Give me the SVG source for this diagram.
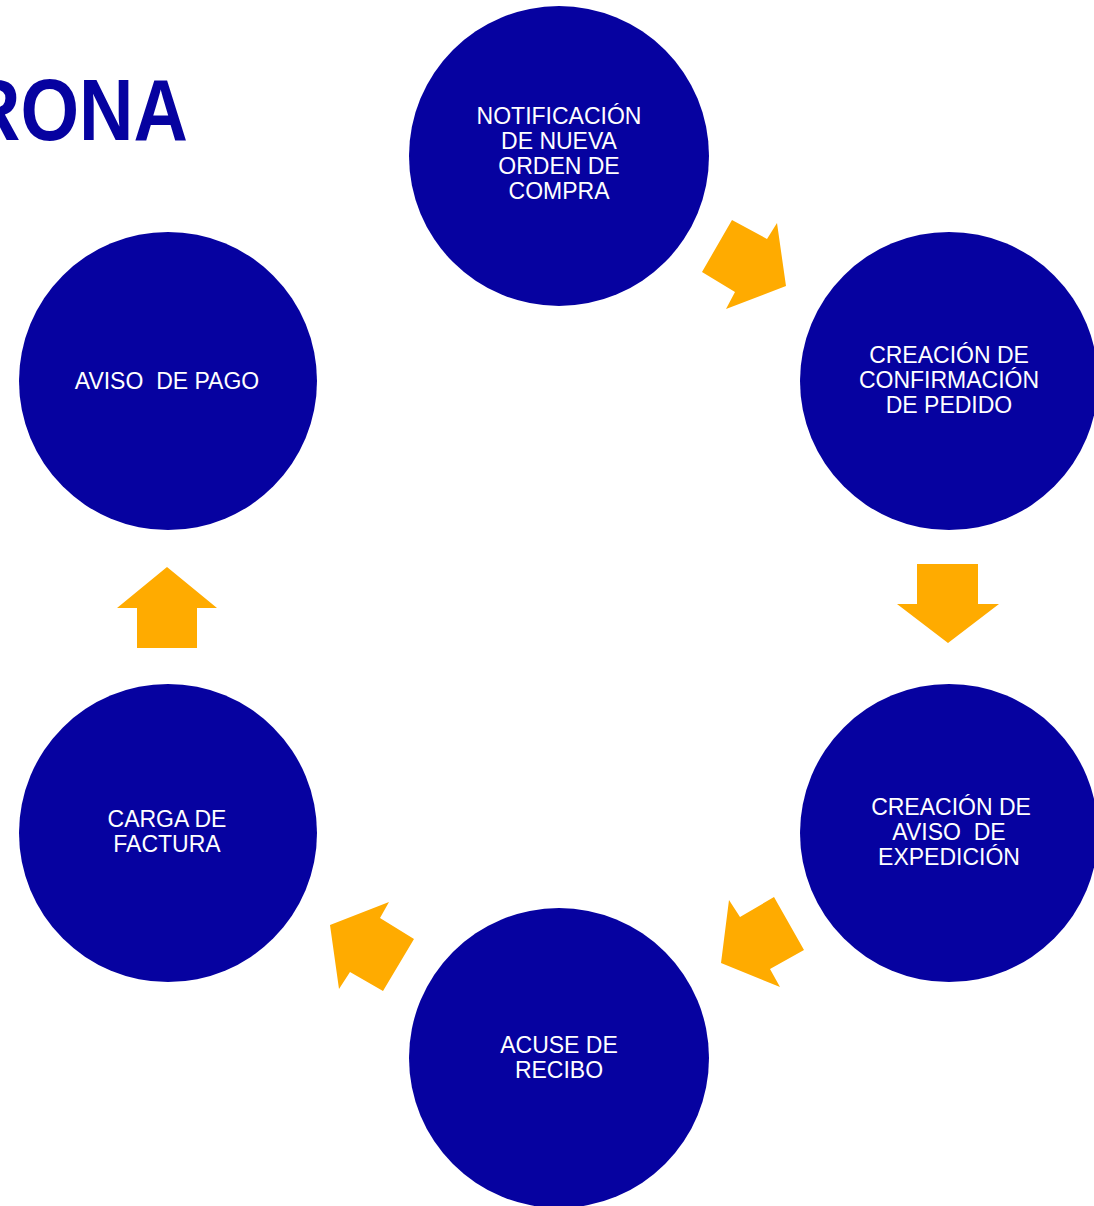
<svg xmlns="http://www.w3.org/2000/svg" width="1094" height="1206" viewBox="0 0 1094 1206">
<style>
.n{fill:#0602A0}
.a{fill:#FFAB00}
.t{font-family:"Liberation Sans",Arial,sans-serif;font-size:23px;fill:#fff;text-anchor:middle;white-space:pre}
.title{font-family:"Liberation Sans",Arial,sans-serif;font-weight:bold;font-size:88px;fill:#0602A0}
</style>
<rect width="1094" height="1206" fill="#fff"/>
<text class="title" x="-34" y="140" textLength="222" lengthAdjust="spacingAndGlyphs">RONA</text>
<g id="connectors">
<polygon class="a" points="732,220 767,239 777,223 786,286 726,309 735,292 702,272"/>
<polygon class="a" points="917,564 978,564 978,604 999,604 948,643 897,604 917,604"/>
<polygon class="a" points="774,897 804,950 770,969 780,987 721,963 729,900 740,917"/>
<polygon class="a" points="389,902 380,918 414,939 383,991 350,972 339,989 330,925"/>
<polygon class="a" points="167,567 217,608 197,608 197,648 137,648 137,608 117,608"/>
</g>
<g id="n1"><circle class="n" cx="559" cy="156" r="150"/>
<text class="t" x="559" y="124">NOTIFICACIÓN</text><text class="t" x="559" y="149">DE NUEVA</text><text class="t" x="559" y="174">ORDEN DE</text><text class="t" x="559" y="199">COMPRA</text></g>
<g id="n2"><circle class="n" cx="949" cy="381" r="149"/>
<text class="t" x="949" y="363">CREACIÓN DE</text><text class="t" x="949" y="388">CONFIRMACIÓN</text><text class="t" x="949" y="413">DE PEDIDO</text></g>
<g id="n3"><circle class="n" cx="949" cy="833" r="149"/>
<text class="t" x="951" y="815">CREACIÓN DE</text><text class="t" x="949" y="840">AVISO  DE</text><text class="t" x="949" y="865">EXPEDICIÓN</text></g>
<g id="n4"><circle class="n" cx="559" cy="1058" r="150"/>
<text class="t" x="559" y="1053">ACUSE DE</text><text class="t" x="559" y="1078">RECIBO</text></g>
<g id="n5"><circle class="n" cx="168" cy="833" r="149"/>
<text class="t" x="167" y="827">CARGA DE</text><text class="t" x="167" y="852">FACTURA</text></g>
<g id="n6"><circle class="n" cx="168" cy="381" r="149"/>
<text class="t" x="167" y="389">AVISO  DE PAGO</text></g>
</svg>
